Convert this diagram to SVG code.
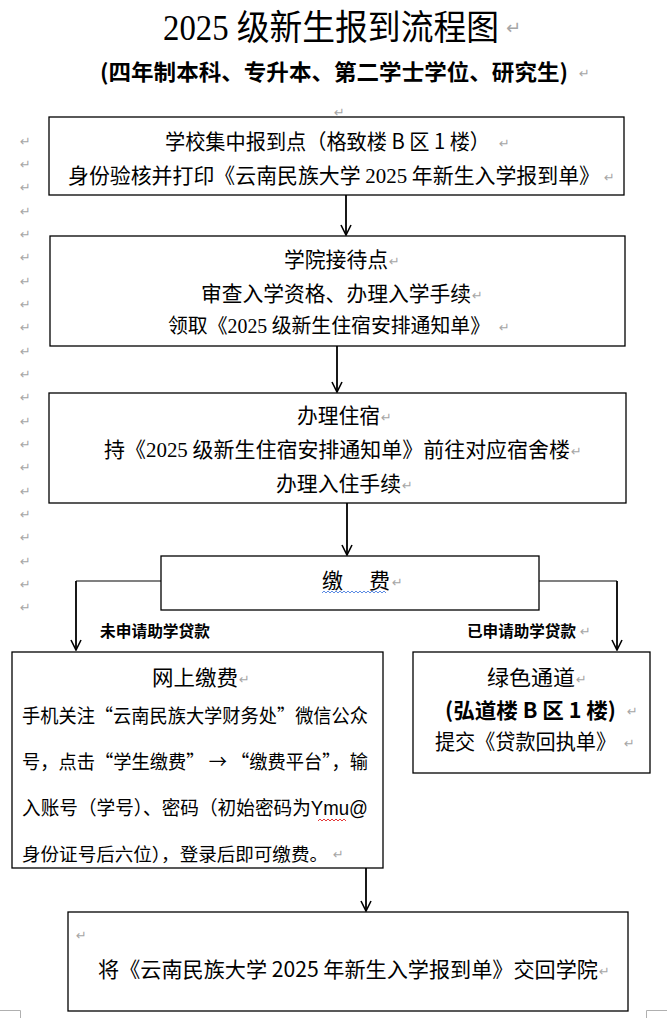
<svg xmlns="http://www.w3.org/2000/svg" width="667" height="1018" viewBox="0 0 667 1018">
<style>
.t{font-family:"Noto Sans CJK SC","Liberation Sans",sans-serif;font-size:21px;fill:#000}
.s{font-family:"Liberation Serif","Noto Sans CJK SC",serif}
.b{font-weight:bold}
.rm{font-family:"DejaVu Sans",sans-serif;font-size:13px;fill:#a6a6a6}
.box{fill:#fff;stroke:#000;stroke-width:1.3}
.ar{fill:none;stroke:#000;stroke-width:1.8}
.gl{fill:none;stroke:#808080;stroke-width:2}
</style>
<defs>
<marker id="arr" viewBox="0 0 12 12" refX="11" refY="6" markerWidth="12" markerHeight="12" orient="auto" markerUnits="userSpaceOnUse">
<path d="M1,1 L11,6 L1,11" fill="none" stroke="#000" stroke-width="1.6"/>
</marker>
</defs>
<rect width="667" height="1018" fill="#fff"/>

<g id="title">
<text class="t" x="163" y="40" style="font-size:35px" textLength="336" lengthAdjust="spacingAndGlyphs"><tspan class="s">2025 </tspan>级新生报到流程图</text>
<text class="rm" x="506" y="34" style="font-size:18px">↵</text>
<text class="t b" x="100" y="80" style="font-size:22px" textLength="468" lengthAdjust="spacingAndGlyphs">(四年制本科、专升本、第二学士学位、研究生)</text>
<text class="rm" x="579" y="78">↵</text>
<text class="rm" x="334" y="117">↵</text>
</g>

<g id="marks">
<text class="rm" x="20" y="146">↵</text>
<text class="rm" x="20" y="169">↵</text>
<text class="rm" x="20" y="192">↵</text>
<text class="rm" x="20" y="216">↵</text>
<text class="rm" x="20" y="239">↵</text>
<text class="rm" x="20" y="262">↵</text>
<text class="rm" x="20" y="286">↵</text>
<text class="rm" x="20" y="309">↵</text>
<text class="rm" x="20" y="332">↵</text>
<text class="rm" x="20" y="356">↵</text>
<text class="rm" x="20" y="379">↵</text>
<text class="rm" x="20" y="402">↵</text>
<text class="rm" x="20" y="426">↵</text>
<text class="rm" x="20" y="449">↵</text>
<text class="rm" x="20" y="472">↵</text>
<text class="rm" x="20" y="496">↵</text>
<text class="rm" x="20" y="519">↵</text>
<text class="rm" x="20" y="542">↵</text>
<text class="rm" x="20" y="566">↵</text>
<text class="rm" x="20" y="589">↵</text>
<text class="rm" x="20" y="612">↵</text>
<path d="M0,1010.5 H20.5 V1018 M646.5,1018 V1010.5 H667" fill="none" stroke="#b0b0b0" stroke-width="1"/>
</g>

<g id="connectors">
<line class="ar" x1="346" y1="195" x2="346" y2="235" marker-end="url(#arr)"/>
<line class="ar" x1="337" y1="346" x2="337" y2="392" marker-end="url(#arr)"/>
<line class="ar" x1="347" y1="503" x2="347" y2="555" marker-end="url(#arr)"/>
<line class="gl" x1="161" y1="581" x2="76" y2="581"/>
<line class="ar" x1="76" y1="581" x2="76" y2="650" marker-end="url(#arr)"/>
<line class="gl" x1="539" y1="581" x2="617" y2="581"/>
<line class="ar" x1="617" y1="581" x2="617" y2="650" marker-end="url(#arr)"/>
<line class="ar" x1="366" y1="868" x2="366" y2="911" marker-end="url(#arr)"/>
<text class="t b" x="100" y="637" style="font-size:15.5px" textLength="110" lengthAdjust="spacingAndGlyphs">未申请助学贷款</text>
<text class="t b" x="467" y="637" style="font-size:15.5px" textLength="109" lengthAdjust="spacingAndGlyphs">已申请助学贷款</text>
<text class="rm" x="580" y="636">↵</text>
</g>

<g id="n1">
<rect class="box" x="49" y="117" width="575" height="78"/>
<text class="t" x="165" y="149" textLength="325" lengthAdjust="spacingAndGlyphs">学校集中报到点（格致楼 B 区 1 楼）</text>
<text class="rm" x="499" y="148">↵</text>
<text class="t" x="68" y="183" textLength="532" lengthAdjust="spacingAndGlyphs">身份验核并打印《云南民族大学 <tspan class="s">2025</tspan> 年新生入学报到单》</text>
<text class="rm" x="604" y="182">↵</text>
</g>

<g id="n2">
<rect class="box" x="50" y="236" width="575" height="110"/>
<text class="t" x="284" y="267" textLength="104" lengthAdjust="spacingAndGlyphs">学院接待点</text>
<text class="rm" x="389" y="266">↵</text>
<text class="t" x="201" y="301" textLength="270" lengthAdjust="spacingAndGlyphs">审查入学资格、办理入学手续</text>
<text class="rm" x="472" y="300">↵</text>
<text class="t" x="168" y="333" style="font-size:20px" textLength="322" lengthAdjust="spacingAndGlyphs">领取《<tspan class="s">2025</tspan> 级新生住宿安排通知单》</text>
<text class="rm" x="499" y="332">↵</text>
</g>

<g id="n3">
<rect class="box" x="49" y="393" width="577" height="110"/>
<text class="t" x="297" y="423" textLength="83" lengthAdjust="spacingAndGlyphs">办理住宿</text>
<text class="rm" x="381" y="422">↵</text>
<text class="t" x="104" y="457" textLength="466" lengthAdjust="spacingAndGlyphs">持《<tspan class="s">2025</tspan> 级新生住宿安排通知单》前往对应宿舍楼</text>
<text class="rm" x="571" y="456">↵</text>
<text class="t" x="276" y="491" textLength="125" lengthAdjust="spacingAndGlyphs">办理入住手续</text>
<text class="rm" x="402" y="490">↵</text>
</g>

<g id="n4">
<rect class="box" x="161" y="556" width="378" height="54"/>
<text class="t" x="322" y="588">缴</text>
<text class="t" x="369" y="588">费</text>
<text class="rm" x="392" y="587">↵</text>
<path d="M322,593 l2,-2 l2,2 l2,-2 l2,2 l2,-2 l2,2 l2,-2 l2,2 l2,-2 l2,2 l2,-2 l2,2 l2,-2 l2,2 l2,-2 l2,2 l2,-2 l2,2 l2,-2 l2,2 l2,-2 l2,2 l2,-2 l2,2 l2,-2 l2,2 l2,-2 l2,2 l2,-2 l2,2 l2,-2 l2,2" fill="none" stroke="#4a7fe0" stroke-width="0.9"/>
</g>

<g id="n5">
<rect class="box" x="12" y="652" width="371" height="216"/>
<text class="t" x="152" y="685" textLength="86" lengthAdjust="spacingAndGlyphs">网上缴费</text>
<text class="rm" x="239" y="684">↵</text>
<text class="t" x="22" y="723" style="font-size:19.5px" textLength="346" lengthAdjust="spacingAndGlyphs">手机关注“云南民族大学财务处”微信公众</text>
<text class="t" x="22" y="769" style="font-size:19.5px" textLength="346" lengthAdjust="spacingAndGlyphs">号，点击“学生缴费” → “缴费平台”，输</text>
<text class="t" x="22" y="815" style="font-size:19.5px" textLength="346" lengthAdjust="spacingAndGlyphs">入账号（学号）、密码（初始密码为<tspan style="font-family:'Liberation Sans',sans-serif">Ymu@</tspan></text>
<path d="M318,821 l2,-2 l2,2 l2,-2 l2,2 l2,-2 l2,2 l2,-2 l2,2 l2,-2 l2,2 l2,-2 l2,2 l2,-2 l2,2" fill="none" stroke="#e02020" stroke-width="0.9"/>
<text class="t" x="22" y="861" style="font-size:18px" textLength="306" lengthAdjust="spacingAndGlyphs">身份证号后六位），登录后即可缴费。</text>
<text class="rm" x="333" y="859">↵</text>
</g>

<g id="n6">
<rect class="box" x="413" y="652" width="237" height="121"/>
<text class="t" x="487" y="685" textLength="88" lengthAdjust="spacingAndGlyphs">绿色通道</text>
<text class="rm" x="576" y="684">↵</text>
<text class="t b" x="445" y="718" textLength="171" lengthAdjust="spacingAndGlyphs">(弘道楼 B 区 1 楼)</text>
<text class="rm" x="627" y="716">↵</text>
<text class="t" x="435" y="749" textLength="181" lengthAdjust="spacingAndGlyphs">提交《贷款回执单》</text>
<text class="rm" x="624" y="748">↵</text>
</g>

<g id="n7">
<rect class="box" x="68" y="912" width="560" height="99"/>
<text class="rm" x="76" y="940">↵</text>
<text class="t" x="98" y="977" textLength="500" lengthAdjust="spacingAndGlyphs">将《云南民族大学 2025 年新生入学报到单》交回学院</text>
<text class="rm" x="599" y="976">↵</text>
</g>
</svg>
